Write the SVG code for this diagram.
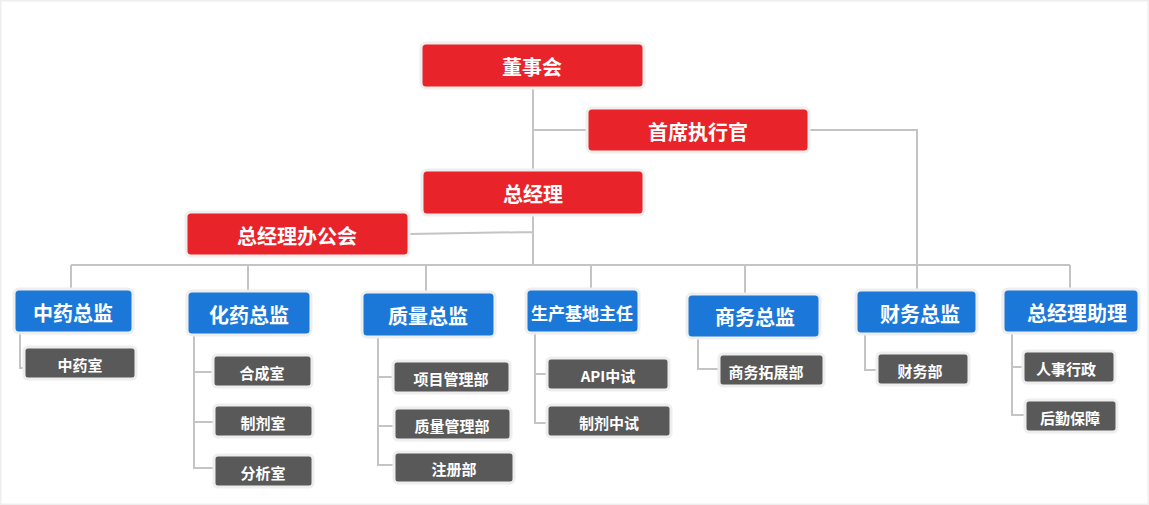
<svg xmlns="http://www.w3.org/2000/svg" width="1149" height="505" viewBox="0 0 1149 505">
<style>
rect{stroke:#eeeeee;stroke-width:3}
.r{fill:#e8232a}.b{fill:#1c78d8}.g{fill:#595959}
text{fill:#fff;font-family:"Noto Sans CJK SC","Noto Sans",sans-serif;font-weight:bold;text-anchor:middle;dominant-baseline:central}
.L{font-size:20px}.S{font-size:15px}.M{font-size:17px}
#conn path{fill:none;stroke:#c4c4c4;stroke-width:2}
</style>
<rect width="1149" height="505" fill="#fff" stroke="none"/>
<g id="conn">
<path d="M533 88V170M533 130H587M809 130H917V290M533 215V265M409 234L533 232M71 265H1070M71 265V289M248 265V291M426 265V292M591 265V289M745 265V294M1070 265V289"/>
<path d="M20 333V368H24M194 335V468H214M194 372H213M194 422H214M378 337V465H394M378 377H393M378 426H394M535 333V423H547M535 374H547M698 338V369H719M865 334V370H877M1012 333V415H1025M1012 367H1023"/>
</g>
<g id="n1"><rect class="r" x="421" y="43" width="223" height="45" rx="5"/><text class="L" x="532" y="66">董事会</text></g>
<g id="n2"><rect class="r" x="587" y="108" width="222" height="44" rx="5"/><text class="L" x="698" y="131">首席执行官</text></g>
<g id="n3"><rect class="r" x="422" y="170" width="222" height="45" rx="5"/><text class="L" x="533" y="193">总经理</text></g>
<g id="n4"><rect class="r" x="186" y="212" width="223" height="44" rx="5"/><text class="L" x="297" y="235">总经理办公会</text></g>
<g id="b1"><rect class="b" x="14" y="289" width="119" height="44" rx="5"/><text class="L" x="73" y="312">中药总监</text></g>
<g id="b2"><rect class="b" x="187" y="291" width="124" height="44" rx="5"/><text class="L" x="249" y="314">化药总监</text></g>
<g id="b3"><rect class="b" x="362" y="292" width="133" height="45" rx="5"/><text class="L" x="428" y="315">质量总监</text></g>
<g id="b4"><rect class="b" x="526" y="289" width="113" height="44" rx="5"/><text class="M" x="582" y="312">生产基地主任</text></g>
<g id="b5"><rect class="b" x="687" y="294" width="133" height="44" rx="5"/><text class="L" x="755" y="316">商务总监</text></g>
<g id="b6"><rect class="b" x="856" y="290" width="121" height="44" rx="5"/><text class="L" x="920" y="313">财务总监</text></g>
<g id="b7"><rect class="b" x="1003" y="289" width="136" height="44" rx="5"/><text class="L" x="1077" y="312">总经理助理</text></g>
<g id="g1"><rect class="g" x="24" y="347" width="112" height="32" rx="4"/><text class="S" x="80" y="364">中药室</text></g>
<g id="g2"><rect class="g" x="213" y="355" width="99" height="32" rx="4"/><text class="S" x="262" y="372">合成室</text></g>
<g id="g3"><rect class="g" x="214" y="405" width="99" height="32" rx="4"/><text class="S" x="263" y="422">制剂室</text></g>
<g id="g4"><rect class="g" x="214" y="455" width="99" height="32" rx="4"/><text class="S" x="263" y="472">分析室</text></g>
<g id="g5"><rect class="g" x="393" y="361" width="117" height="32" rx="4"/><text class="S" x="451" y="378">项目管理部</text></g>
<g id="g6"><rect class="g" x="394" y="408" width="117" height="32" rx="4"/><text class="S" x="452" y="425">质量管理部</text></g>
<g id="g7"><rect class="g" x="394" y="452" width="120" height="31" rx="4"/><text class="S" x="454" y="468">注册部</text></g>
<g id="g8"><rect class="g" x="547" y="358" width="122" height="32" rx="4"/><text class="S" x="608" y="375">API中试</text></g>
<g id="g9"><rect class="g" x="547" y="405" width="124" height="32" rx="4"/><text class="S" x="609" y="422">制剂中试</text></g>
<g id="g10"><rect class="g" x="719" y="354" width="105" height="32" rx="4"/><text class="S" x="766" y="371">商务拓展部</text></g>
<g id="g11"><rect class="g" x="877" y="353" width="92" height="32" rx="4"/><text class="S" x="920" y="370">财务部</text></g>
<g id="g12"><rect class="g" x="1023" y="351" width="92" height="32" rx="4"/><text class="S" x="1066" y="368">人事行政</text></g>
<g id="g13"><rect class="g" x="1025" y="400" width="92" height="32" rx="4"/><text class="S" x="1070" y="417">后勤保障</text></g>
</svg>
